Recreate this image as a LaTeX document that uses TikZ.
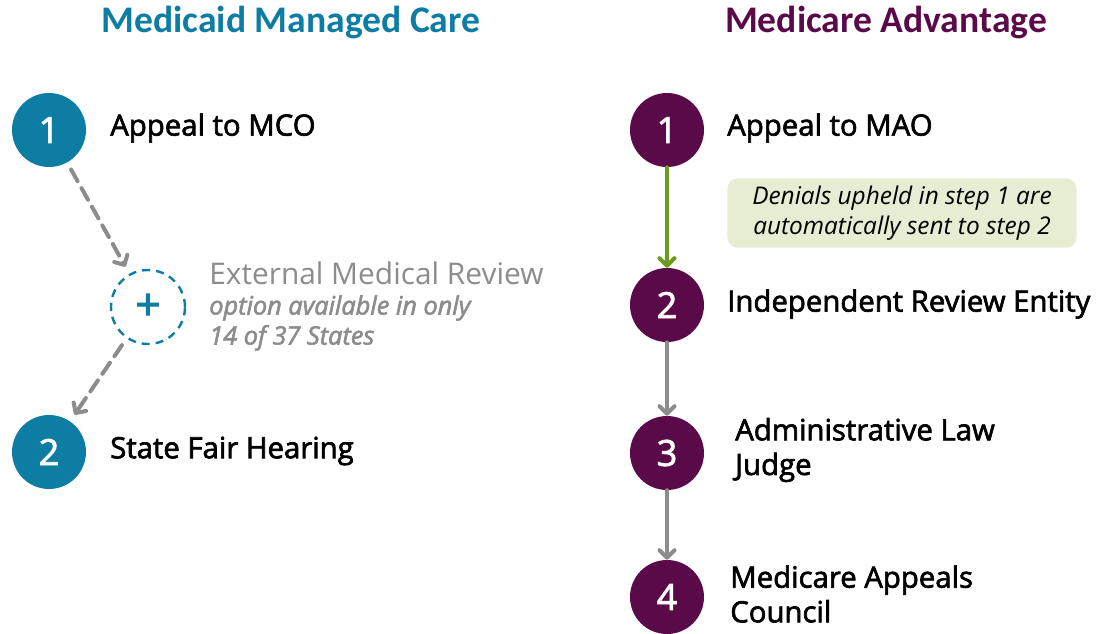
\documentclass[tikz,border=0pt]{standalone}
\usepackage{fontspec}
\setmainfont{Open Sans}[FakeBold=2.2]
\newfontfamily\plainfont{Open Sans}
\newfontfamily\headfont{Carlito}
\usetikzlibrary{arrows.meta}

\definecolor{caidblue}{HTML}{0E7DA3}
\definecolor{carepurple}{HTML}{5A0A48}
\definecolor{autogreen}{HTML}{6E9A1E}
\definecolor{notegreen}{HTML}{E6EDD3}
\definecolor{optgray}{HTML}{8C8C8C}

\begin{document}
\begin{tikzpicture}[x=0.75pt,y=-0.75pt]
	\tikzstyle{stepnum}=[circle,minimum size=55.5pt,inner sep=0pt,text=white,font=\fontsize{27}{30}\selectfont]
	\tikzstyle{caid step}=[stepnum,fill=caidblue]
	\tikzstyle{care step}=[stepnum,fill=carepurple]
	\tikzstyle{steptext}=[anchor=west,align=left,inner sep=0pt,font=\fontsize{22}{26}\selectfont]
	\tikzstyle{heading}=[font=\headfont\bfseries\fontsize{28.2}{32}\selectfont]
	\tikzstyle{flow}=[-{Straight Barb[angle=90:8pt,round]},line width=3pt,line cap=round]
	\tikzstyle{optional}=[flow,optgray,dash pattern=on 10pt off 6pt,shorten <=6pt,shorten >=6pt]

	\useasboundingbox (0,0) rectangle (1108,633);

	% Headings
	\node[heading,text=caidblue] (caid) at (291,22) {Medicaid Managed Care};
	\node[heading,text=carepurple] (care) at (886,22) {Medicare Advantage};

	% Medicaid steps
	\node[caid step] (C-1) at (49,130) {1};
	\node[caid step] (C-2) at (49,452) {2};
	\node[steptext] at (110,128) {Appeal to MCO};
	\node[steptext] at (110,451) {State Fair Hearing};

	% The optional external review in between
	\node[circle,draw=caidblue,line width=1.8pt,dash pattern=on 6pt off 4.5pt,minimum size=55.5pt,inner sep=0pt,
		text=caidblue,font=\fontsize{33}{34}\selectfont] (ext) at (148,307) {+};
	\node[anchor=west,inner sep=0pt,text=optgray,font=\plainfont\fontsize{22.4}{26}\selectfont] at (209,273) {External Medical Review};
	\node[anchor=north west,align=left,inner sep=0pt,text=optgray,font=\itshape\fontsize{19}{22.5}\selectfont] at (209,295)
		{option available in only\\14 of 37 States};

	\draw[optional] (C-1) -- (ext);
	\draw[optional] (ext) -- (C-2);

	% Medicare Advantage steps
	\foreach \name / \y in {1/130,2/305,3/453,4/597}
	\node[care step] (M-\name) at (667,\y) {\name};

	\node[steptext] at (727,128) {Appeal to MAO};
	\node[steptext] at (727,304) {Independent Review Entity};
	\node[steptext] at (735,450) {Administrative Law\\Judge};
	\node[steptext] at (730,594) {Medicare Appeals\\Council};

	% Automatic forwarding note
	\node[rounded corners=8pt,fill=notegreen,minimum width=262pt,minimum height=52pt,align=center,
		font=\plainfont\itshape\fontsize{18.3}{22.5}\selectfont] (note) at (902,213)
		{Denials upheld in step 1 are\\automatically sent to step 2};

	\draw[flow,autogreen] (M-1) -- (M-2);
	\foreach \source / \dest in {2/3,3/4}
	\draw[flow,optgray] (M-\source) -- (M-\dest);
\end{tikzpicture}
\end{document}
